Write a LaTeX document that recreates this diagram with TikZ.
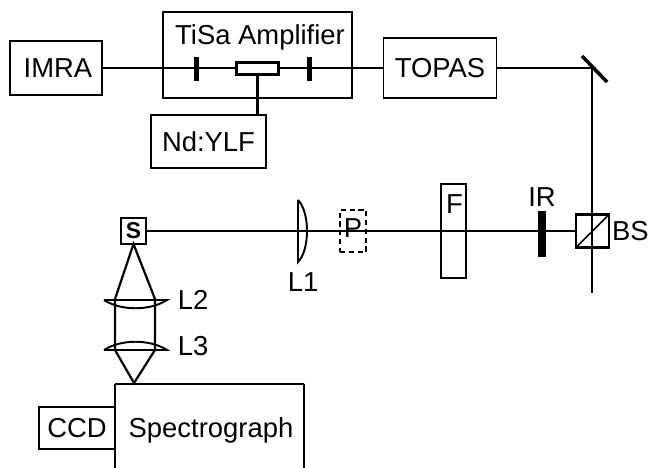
\documentclass[tikz,border=0pt]{standalone}
\usepackage{fontspec}
\setmainfont{Liberation Sans}
\usepackage{tikz}
\tikzstyle{thinbox} = [draw=black, line width=1pt, inner sep=0pt, outer sep=0pt, font=\fontsize{15.6}{18}\selectfont]
\tikzstyle{thickbox} = [thinbox, line width=1.3pt]
\tikzstyle{tag} = [inner sep=0pt, font=\fontsize{15.6}{18}\selectfont]
\tikzstyle{beam} = [line width=0.85pt]
\tikzstyle{cone} = [line width=1.25pt]
\tikzstyle{lens} = [line width=1.1pt]

\begin{document}
\begin{tikzpicture}
\useasboundingbox (0,0) rectangle (13,-9.36);

%top row
\node[thickbox, minimum width=1.84cm, minimum height=1.08cm] (imra) at (1.12,-1.36) {};
\node[tag] (imratext) at (1.16,-1.36) {IMRA};
\node[thickbox, minimum width=3.78cm, minimum height=1.72cm] (tisa) at (5.15,-1.10) {};
\node[tag] (tisatext) at (5.2,-0.74) {TiSa Amplifier};
\node[thickbox, minimum width=2.30cm, minimum height=1.06cm] (ndylf) at (4.17,-2.83) {Nd:YLF};
\node[thinbox, minimum width=2.26cm, minimum height=1.20cm] (topas) at (8.80,-1.36) {TOPAS};
\coordinate (mirror) at (11.84,-1.36);
\coordinate (mirrora) at (11.64,-1.12);
\coordinate (mirrorb) at (12.14,-1.64);
\coordinate (beamend) at (11.84,-5.86);

%amplifier
\draw[beam] (imra) -- (topas);
\node[draw=black, line width=1.6pt, fill=white, inner sep=0pt, outer sep=0pt, minimum width=.84cm, minimum height=.24cm] (crystal) at (5.15,-1.37) {};
\node[fill=black, inner sep=0pt, minimum width=.1cm, minimum height=.48cm] (stopa) at (3.93,-1.38) {};
\node[fill=black, inner sep=0pt, minimum width=.1cm, minimum height=.48cm] (stopb) at (6.18,-1.38) {};
\draw[line width=1.5pt] (crystal.south) -- (crystal.south |- ndylf.north);

%folding mirror
\draw[beam] (topas) -- (mirror);
\draw[line width=2pt] (mirrora) -- (mirrorb);
\draw[beam] (mirror) -- (beamend);

%beam splitter
\node[thickbox, minimum size=.66cm] (bs) at (11.85,-4.62) {};
\draw[beam] (bs.south west) -- (bs.north east);
\node[tag, anchor=east] (bstext) at (12.98,-4.62) {BS};

%sample line
\node[thickbox, minimum width=.5cm, minimum height=.52cm, font=\fontsize{13}{14}\selectfont\bfseries] (s) at (2.67,-4.62) {S};
\draw[beam] (s) -- (bs);

%IR
\node[fill=black, inner sep=0pt, minimum width=.16cm, minimum height=.92cm] (ir) at (10.84,-4.68) {};
\node[tag] (irtext) at (10.84,-3.94) {IR};

%F
\node[thickbox, minimum width=.5cm, minimum height=1.88cm] (f) at (9.07,-4.62) {};
\node[tag] (ftext) at (9.09,-4.08) {F};

%P
\node[draw=black, densely dashed, line width=1pt, inner sep=0pt, minimum width=.52cm, minimum height=.84cm] (p) at (7.06,-4.62) {};
\node[tag] (ptext) at (7.06,-4.56) {P};

%L1
\coordinate (lonea) at (5.96,-4.0);
\coordinate (loneb) at (5.96,-5.24);
\draw[lens] (lonea) -- (loneb) .. controls (6.2,-5.0) and (6.2,-4.24) .. (lonea);
\node[tag] (lonetext) at (6.06,-5.64) {L1};

%L2
\coordinate (ltwoa) at (2.08,-6.0);
\coordinate (ltwob) at (3.34,-6.0);
\draw[lens] (ltwoa) -- (ltwob) .. controls (3.0,-6.22) and (2.42,-6.22) .. (ltwoa);
\node[tag] (ltwotext) at (3.86,-6.0) {L2};

%L3
\coordinate (lthreea) at (2.08,-7.0);
\coordinate (lthreeb) at (3.34,-7.0);
\draw[lens] (lthreea) -- (lthreeb) .. controls (3.0,-6.78) and (2.42,-6.78) .. (lthreea);
\node[tag] (lthreetext) at (3.86,-6.92) {L3};

%cone
\coordinate (conea) at (2.30,-5.98);
\coordinate (coneb) at (3.10,-5.98);
\coordinate (conec) at (2.30,-7.0);
\coordinate (coned) at (3.10,-7.0);
\coordinate (focus) at (2.68,-7.66);
\draw[cone] (conea) -- (s.south) -- (coneb) -- (coned) -- (focus) -- (conec) -- (conea);

%Spectrograph
\node[minimum width=3.78cm, minimum height=1.68cm, inner sep=0pt] (spec) at (4.19,-8.52) {};
\node[tag] (spectext) at (4.22,-8.6) {Spectrograph};
\draw[thinbox] (spec.south west) -- (spec.north west);
\draw[thickbox] (spec.north west) -- (spec.north east);
\draw[thinbox] (spec.north east) -- (spec.south east);
\node[thinbox, minimum width=1.52cm, minimum height=.84cm] (ccd) at (1.54,-8.56) {CCD};

\end{tikzpicture}
\end{document}
